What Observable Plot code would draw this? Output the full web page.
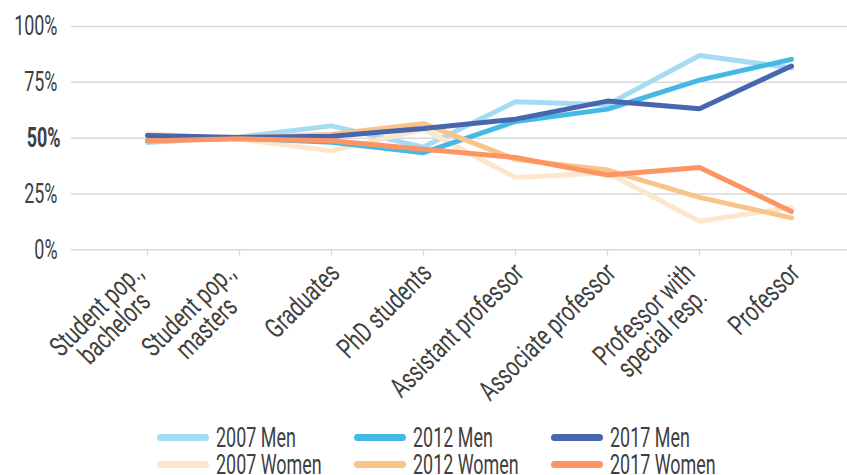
<!DOCTYPE html>
<html>
<head>
<meta charset="utf-8">
<script src="https://cdn.jsdelivr.net/npm/d3@7"></script>
<script src="https://cdn.jsdelivr.net/npm/@observablehq/plot@0.6"></script>
<style>
  html, body { margin: 0; padding: 0; background: #fff; }
  #wrap { position: relative; width: 847px; height: 475px; overflow: hidden; font-family: Roboto, sans-serif; }
  #legend { position: absolute; left: 0; top: 424px; width: 847px; }
  .row { display: flex; height: 27px; padding-left: 157px; }
  .item { width: 197px; display: flex; align-items: center; height: 27px; }
  .sw { width: 52px; height: 7px; border-radius: 4px; flex: none; }
  .lb { display: inline-block; white-space: nowrap; font-size: 28px; height: 22px; line-height: 22px; overflow: visible; color: #404040; margin-left: 7px; transform: scaleX(0.64); transform-origin: left center; }
</style>
</head>
<body>
<div id="wrap">
  <div id="chart"></div>
  <div id="legend"></div>
</div>
<script>
// ---- data ----
const categories = [
  "Student pop.,\nbachelors",
  "Student pop.,\nmasters",
  "Graduates",
  "PhD students",
  "Assistant professor",
  "Associate professor",
  "Professor with\nspecial resp.",
  "Professor"
];
const seriesNames = ["2007 Men", "2007 Women", "2012 Men", "2012 Women", "2017 Men", "2017 Women"];
const seriesColors = ["#a6dcf3", "#fde7cc", "#45b8e6", "#f8c48a", "#4866ad", "#fc9464"];
const men2007   = [48, 50.5, 55.5, 46, 66.3, 65, 87, 81.5];
const women2007 = [52, 49.5, 44.3, 54, 32.4, 34.5, 12.8, 19];
const men2012   = [49, 50, 48.2, 43.5, 57.5, 63, 76, 85.3];
const women2012 = [51, 50, 51.8, 56.5, 40.5, 35.7, 23.5, 14.3];
const men2017   = [51.2, 50.3, 50.9, 54.3, 58.5, 66.6, 63.2, 82.3];
const women2017 = [48.7, 49.7, 48.8, 45, 41.3, 33.5, 36.9, 17.2];
const yTicks = [0, 25, 50, 75, 100];
const legendOrder = [["2007 Men", "2012 Men", "2017 Men"], ["2007 Women", "2012 Women", "2017 Women"]];

const seriesValues = [men2007, women2007, men2012, women2012, men2017, women2017];
const rows = seriesNames.flatMap((s, i) => categories.map((c, j) => ({series: s, cat: c, v: seriesValues[i][j]})));

const W = 847, H = 412;
const textColor = "#404040";
const SX = 0.64, SX_ROT = 0.72;
const isMulti = d => d.includes("\n");
const xLabelStyle = {x: d => d, y: 0, text: d => d, rotate: -45, textAnchor: "end", lineAnchor: "top", lineHeight: 0.92, fontSize: 28, fill: textColor};

const chart = Plot.plot({
  width: W,
  height: H,
  marginLeft: 71,
  marginRight: 0,
  marginTop: 26,
  marginBottom: H - 249.3,
  style: {fontFamily: "Roboto, sans-serif", background: "#fff", overflow: "visible"},
  x: {type: "point", domain: categories, range: [146.7, 791], padding: 0, axis: null},
  y: {domain: [0, 100], axis: null},
  color: {domain: seriesNames, range: seriesColors},
  marks: [
    Plot.ruleY(yTicks, {y: d => d, stroke: "#d9d9d9", strokeWidth: 1.5}),
    Plot.ruleX(categories, {x: d => d, y1: 0, y2: -2.8, stroke: "#d9d9d9", strokeWidth: 1.2}),
    Plot.line(rows, {x: "cat", y: "v", z: "series", stroke: "series", strokeWidth: 5, strokeLinecap: "round", strokeLinejoin: "miter"}),
    Plot.text(yTicks.filter(d => d !== 50), {y: d => d, text: d => d + "%", frameAnchor: "left", textAnchor: "end", dx: -14, fontSize: 28, fill: textColor}),
    Plot.text(yTicks.filter(d => d === 50), {y: d => d, text: d => d + "%", frameAnchor: "left", textAnchor: "end", dx: -11, fontSize: 28, fontWeight: "bold", fill: textColor}),
    Plot.text(categories.filter(d => !isMulti(d)), {...xLabelStyle, dx: -3, dy: 12}),
    Plot.text(categories.filter(isMulti), {...xLabelStyle, dx: -16, dy: 12})
  ]
});
document.getElementById("chart").appendChild(chart);

// condense text horizontally (narrow typeface look) and centre multi-line labels
chart.querySelectorAll("text").forEach(t => {
  const tr = t.getAttribute("transform");
  const s = tr && tr.includes("rotate") ? SX_ROT : SX;
  if (tr) t.setAttribute("transform", tr + ` scale(${s},1)`);
  else {
    const x = parseFloat(t.getAttribute("x")) || 0;
    t.setAttribute("transform", `translate(${x},0) scale(${s},1)`);
    t.setAttribute("x", 0);
  }
  const spans = Array.from(t.querySelectorAll("tspan"));
  if (spans.length > 1) {
    const ws = spans.map(sp => sp.getComputedTextLength());
    const m = Math.max(...ws);
    spans.forEach((sp, i) => sp.setAttribute("dx", (ws[i] - m) / 2));
  }
});

// legend
const legend = document.getElementById("legend");
legendOrder.forEach(r => {
  const row = document.createElement("div");
  row.className = "row";
  r.forEach(name => {
    const it = document.createElement("div");
    it.className = "item";
    const sw = document.createElement("span");
    sw.className = "sw";
    sw.style.background = seriesColors[seriesNames.indexOf(name)];
    const lb = document.createElement("span");
    lb.className = "lb";
    lb.textContent = name;
    it.appendChild(sw);
    it.appendChild(lb);
    row.appendChild(it);
  });
  legend.appendChild(row);
});
</script>
</body>
</html>
